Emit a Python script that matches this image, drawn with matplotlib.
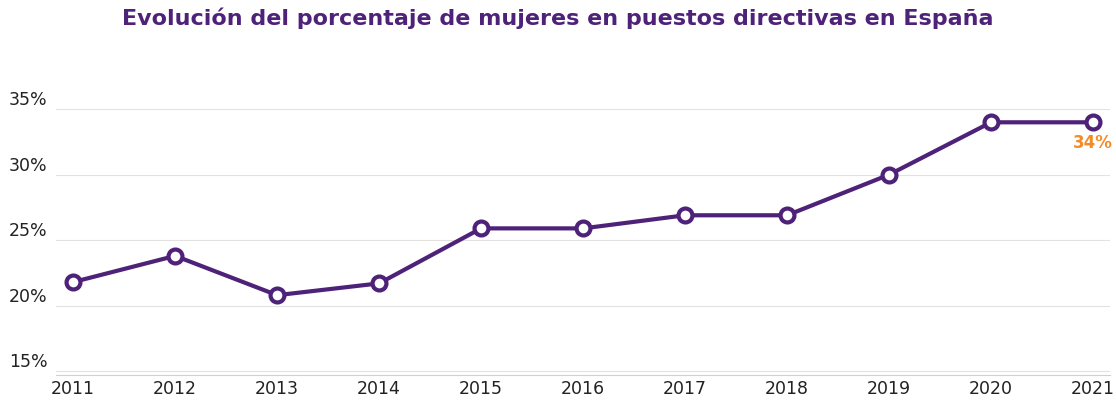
import matplotlib
matplotlib.use('Agg')
import matplotlib.pyplot as plt
from matplotlib.ticker import FuncFormatter

PURPLE = '#4F2279'
ORANGE = '#F28C28'

years = [2011, 2012, 2013, 2014, 2015, 2016, 2017, 2018, 2019, 2020, 2021]
pct = [21.8, 23.8, 20.8, 21.7, 25.9, 25.9, 26.9, 26.9, 30.0, 34.0, 34.0]
yticks = [15, 20, 25, 30, 35]

fig = plt.figure(figsize=(11.16, 4.09), dpi=100)
ax = fig.add_axes([0.05, 0.083, 0.945, 0.65])
ax.plot(years, pct, color=PURPLE, lw=3, marker='o', ms=10,
        mfc='white', mec=PURPLE, mew=3, zorder=3, clip_on=False)
ax.text(years[-1], pct[-1] - 1.6, f'{pct[-1]:.0f}%', color=ORANGE,
        ha='center', va='center', fontsize=12, fontweight='bold')

ax.set_xlim(2010.83, 2021.17)
ax.set_ylim(14.7, 35.0)
ax.set_yticks(yticks)
ax.yaxis.set_major_formatter(FuncFormatter(lambda v, _: f'{v:.0f}%'))
ax.set_xticks(years)
ax.grid(axis='y', color='#E2E2E2', lw=0.8)
ax.grid(axis='x', visible=False)
for s in ['top', 'right', 'left']:
    ax.spines[s].set_visible(False)
ax.spines['bottom'].set_color('#D0D0D0')
ax.tick_params(length=0, labelsize=12.5, colors='#222222')
ax.tick_params(axis='y', pad=6)
for lbl in ax.get_yticklabels():
    lbl.set_verticalalignment('bottom')

fig.text(0.5, 0.955, 'Evolución del porcentaje de mujeres en puestos directivas en España',
         ha='center', va='center', color=PURPLE, fontsize=16, fontweight='bold')
fig.savefig('out.png')
